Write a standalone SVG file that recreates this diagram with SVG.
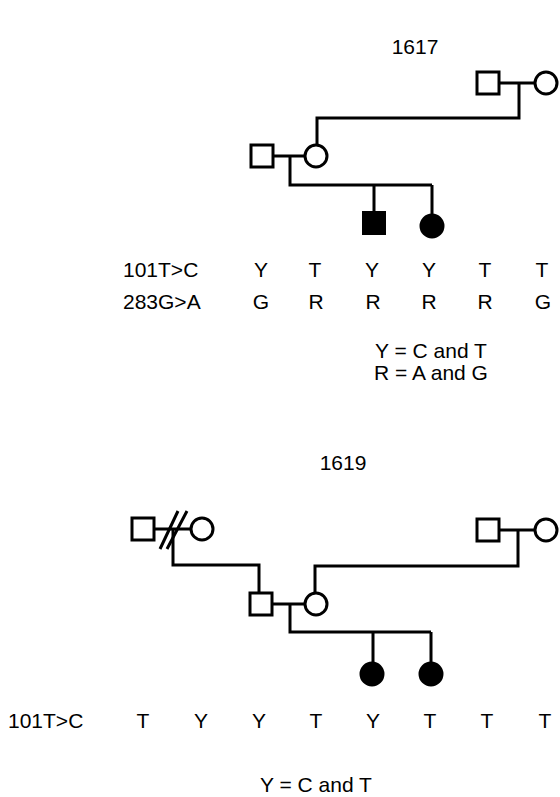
<svg xmlns="http://www.w3.org/2000/svg" width="560" height="797" viewBox="0 0 560 797">
<style>
.sym{fill:#fff;stroke:#000;stroke-width:3}
.aff{fill:#000;stroke:#000;stroke-width:2}
.ln{fill:none;stroke:#000;stroke-width:3}
text{font-family:"Liberation Sans",Arial,sans-serif;font-size:21px;fill:#000}
.c{text-anchor:middle}
</style>
<rect width="560" height="797" fill="#fff"/>
<g id="connectors">
<path class="ln" d="M500,83H535M519,83V118H317V145"/>
<path class="ln" d="M273,156H305M290,156V185H432M374,185V211M432,185V214"/>
<path class="ln" d="M155,529H191M173,529V565H259V593"/>
<path class="ln" d="M160,549L178,511M167,549L187,511"/>
<path class="ln" d="M499,530H535M518,530V566H315V593"/>
<path class="ln" d="M272,604H305M290,604V632H431M373,632V662M431,632V662"/>
</g>
<g id="t1617"><text class="c" x="415" y="54">1617</text></g>
<g id="p1_gf"><rect class="sym" x="477" y="72" width="22" height="22"/></g>
<g id="p1_gm"><circle class="sym" cx="546" cy="83" r="11"/></g>
<g id="p1_f"><rect class="sym" x="251" y="145" width="22" height="22"/></g>
<g id="p1_m"><circle class="sym" cx="316" cy="156" r="11"/></g>
<g id="p1_son"><rect class="aff" x="363" y="212" width="22" height="22"/></g>
<g id="p1_dau"><circle class="aff" cx="432" cy="226" r="11.5"/></g>
<g id="p1_rows">
<text x="123" y="277">101T&gt;C</text>
<text class="c" x="261" y="277">Y</text>
<text class="c" x="315" y="277">T</text>
<text class="c" x="372" y="277">Y</text>
<text class="c" x="429" y="277">Y</text>
<text class="c" x="485" y="277">T</text>
<text class="c" x="542" y="277">T</text>
<text x="123" y="309">283G&gt;A</text>
<text class="c" x="261" y="309">G</text>
<text class="c" x="316" y="309">R</text>
<text class="c" x="373" y="309">R</text>
<text class="c" x="429" y="309">R</text>
<text class="c" x="485" y="309">R</text>
<text class="c" x="543" y="309">G</text>
<text class="c" x="431" y="358">Y = C and T</text>
<text class="c" x="431" y="380">R = A and G</text>
</g>
<g id="t1619"><text class="c" x="343" y="470">1619</text></g>
<g id="p2_lgf"><rect class="sym" x="132" y="518" width="22" height="22"/></g>
<g id="p2_lgm"><circle class="sym" cx="202" cy="529" r="11"/></g>
<g id="p2_rgf"><rect class="sym" x="477" y="519" width="22" height="22"/></g>
<g id="p2_rgm"><circle class="sym" cx="546" cy="530" r="11"/></g>
<g id="p2_f"><rect class="sym" x="250" y="593" width="22" height="22"/></g>
<g id="p2_m"><circle class="sym" cx="316" cy="604" r="11"/></g>
<g id="p2_d1"><circle class="aff" cx="372" cy="674" r="11.5"/></g>
<g id="p2_d2"><circle class="aff" cx="431" cy="674" r="11.5"/></g>
<g id="p2_rows">
<text x="8" y="728">101T&gt;C</text>
<text class="c" x="143" y="728">T</text>
<text class="c" x="201" y="728">Y</text>
<text class="c" x="259" y="728">Y</text>
<text class="c" x="316" y="728">T</text>
<text class="c" x="373" y="728">Y</text>
<text class="c" x="430" y="728">T</text>
<text class="c" x="487" y="728">T</text>
<text class="c" x="545" y="728">T</text>
<text class="c" x="316" y="792">Y = C and T</text>
</g>
</svg>
